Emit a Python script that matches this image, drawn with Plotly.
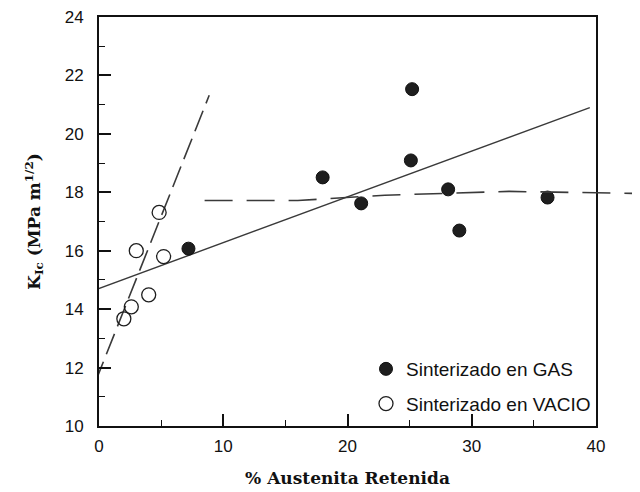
import plotly.graph_objects as go

# Data
gas_x = [7.2, 18.0, 21.1, 25.1, 25.2, 28.1, 29.0, 36.1]
gas_y = [16.07, 18.51, 17.62, 19.09, 21.53, 18.10, 16.69, 17.82]

vac_x = [2.0, 2.6, 3.0, 4.0, 4.84, 5.2]
vac_y = [13.67, 14.08, 16.0, 14.49, 17.31, 15.8]

# hand-drawn trend lines
gas_fit_x = [-0.5, 39.5]
gas_fit_y = [14.63, 20.9]

vac_fit_x = [-0.3, 8.87]
vac_fit_y = [11.5, 21.32]

plateau_x = [8.5, 16.0, 23.0, 33.0, 43.5]
plateau_y = [17.72, 17.72, 17.9, 18.03, 17.96]

x_ticks = [0, 10, 20, 30, 40]
x_minor = [5, 15, 25, 35]
y_ticks = [10, 12, 14, 16, 18, 20, 22, 24]
y_minor = [11, 13, 15, 17, 19, 21, 23]

# page has 8px body margin; compensate so plot lands where the reference has it
OFF = 8
W, H = 640 - OFF, 492 - OFF
L, R_plot, T, B = 99 - OFF, 596 - OFF, 17 - OFF, 426 - OFF
plot_w_full = W - L
plot_h = B - T
main_frac = (R_plot - L) / plot_w_full
x2_max = 40 / main_frac

line_col = "#3a3a3a"

fig = go.Figure()

fig.add_trace(go.Scatter(x=gas_fit_x, y=gas_fit_y, mode="lines",
                         line=dict(color=line_col, width=1.4), showlegend=False, hoverinfo="skip"))
fig.add_trace(go.Scatter(x=vac_fit_x, y=vac_fit_y, mode="lines",
                         line=dict(color=line_col, width=1.6, dash="22px,8px"), showlegend=False, hoverinfo="skip"))
fig.add_trace(go.Scatter(x=plateau_x, y=plateau_y, mode="lines", xaxis="x2", yaxis="y",
                         line=dict(color=line_col, width=1.6, dash="28px,14px"), showlegend=False, hoverinfo="skip"))

fig.add_trace(go.Scatter(x=gas_x, y=gas_y, mode="markers", name="Sinterizado en GAS",
                         legendgroup="g",
                         marker=dict(symbol="circle", size=13, color="#1e1e1e",
                                     line=dict(color="#111", width=1))))
fig.add_trace(go.Scatter(x=vac_x, y=vac_y, mode="markers", name="Sinterizado en VACIO",
                         legendgroup="v",
                         marker=dict(symbol="circle-open", size=14, color="#1e1e1e",
                                     line=dict(color="#1e1e1e", width=1.3))))

fig.update_layout(
    width=W, height=H,
    margin=dict(l=L, r=0, t=T, b=H - B),
    paper_bgcolor="white", plot_bgcolor="rgba(0,0,0,0)",
    font=dict(family="Liberation Sans", size=17, color="#111"),
    xaxis=dict(domain=[0, main_frac], range=[0, 40], tickmode="array", tickvals=x_ticks, automargin=False,
               ticks="inside", ticklen=12, tickwidth=1.5, tickcolor="#111",
               minor=dict(tickmode="array", tickvals=x_minor, ticks="inside", ticklen=6,
                          tickwidth=1.3, tickcolor="#111", showgrid=False),
               showline=True, linecolor="#111", linewidth=2, mirror=True,
               showgrid=False, zeroline=False, ticklabelstandoff=4, ticklabeloverflow="allow",
               title=dict(text="<b>% Austenita Retenida</b>",
                          font=dict(family="DejaVu Serif", size=17), standoff=17)),
    xaxis2=dict(domain=[0, 1], range=[0, x2_max], visible=False, anchor="y"),
    yaxis=dict(range=[10, 24], tickmode="array", tickvals=y_ticks, anchor="x", automargin=False,
               ticks="inside", ticklen=12, tickwidth=1.5, tickcolor="#111",
               minor=dict(tickmode="array", tickvals=y_minor, ticks="inside", ticklen=6,
                          tickwidth=1.3, tickcolor="#111", showgrid=False),
               showline=True, linecolor="#111", linewidth=2, mirror=True,
               showgrid=False, zeroline=False, ticklabelstandoff=10, ticklabeloverflow="allow",
               title=dict(text="<b>K<sub>Ic</sub> (MPa m<sup>1/2</sup>)</b>",
                          font=dict(family="DejaVu Serif", size=17), standoff=20)),
    legend=dict(x=(366 - 99) / plot_w_full, y=(426 - 423) / plot_h, xanchor="left", yanchor="bottom",
                bgcolor="rgba(0,0,0,0)", font=dict(family="Liberation Sans", size=19),
                tracegroupgap=7),
    showlegend=True,
)

fig.write_html("out.html")
